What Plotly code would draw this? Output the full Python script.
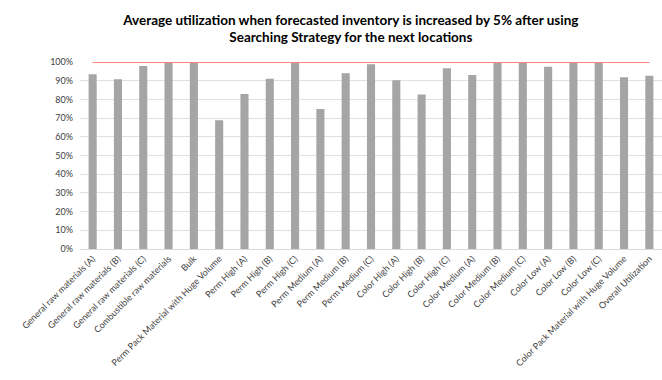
import plotly.graph_objects as go

categories = [
    "General raw materials (A)", "General raw materials (B)", "General raw materials (C)",
    "Combustible raw materials", "Bulk", "Perm Pack Material with Huge Volume",
    "Perm High (A)", "Perm High (B)", "Perm High (C)",
    "Perm Medium (A)", "Perm Medium (B)", "Perm Medium (C)",
    "Color High (A)", "Color High (B)", "Color High (C)",
    "Color Medium (A)", "Color Medium (B)", "Color Medium (C)",
    "Color Low (A)", "Color Low (B)", "Color Low (C)",
    "Color Pack Material with Huge Volume", "Overall Utilization",
]
utilization = [
    0.934, 0.908, 0.979, 1.0, 1.0, 0.689,
    0.829, 0.911, 1.0,
    0.748, 0.940, 0.988,
    0.902, 0.826, 0.966,
    0.931, 1.0, 1.0,
    0.975, 1.0, 1.0,
    0.918, 0.927,
]
capacity = [1.0] * len(categories)
y_ticks = [i / 10 for i in range(11)]

fig = go.Figure()
fig.add_trace(go.Bar(x=categories, y=utilization, marker_color="#a5a5a5",
                     marker_line_width=0, showlegend=False))
fig.add_trace(go.Scatter(x=categories, y=capacity, mode="lines",
                         line=dict(color="#ff8080", width=2), showlegend=False))

fig.update_layout(
    width=662, height=380,
    margin=dict(l=80, r=0, t=62, b=131),
    paper_bgcolor="white", plot_bgcolor="white",
    bargap=0.68,
    font=dict(family="Lato, Open Sans, sans-serif", color="#595959"),
    title=dict(
        text="<b>Average utilization when forecasted inventory is increased by 5% after using<br>Searching Strategy for the next locations</b>",
        x=0.53, xanchor="center", y=0.935, yanchor="top",
        font=dict(size=13.5, color="#000000", family="Lato, Open Sans, sans-serif"),
    ),
    xaxis=dict(tickangle=-45, tickfont=dict(size=9, color="#404040"),
               showline=True, linecolor="#d9d9d9", ticks="", showgrid=False),
    yaxis=dict(range=[0, 1.0], tickvals=y_ticks, tickformat=".0%",
               tickfont=dict(size=9, color="#404040"),
               showgrid=True, gridcolor="#e0e0e0", gridwidth=1,
               zeroline=False, showline=False, ticks="", ticklabelstandoff=6),
)

fig.write_html("out.html")
